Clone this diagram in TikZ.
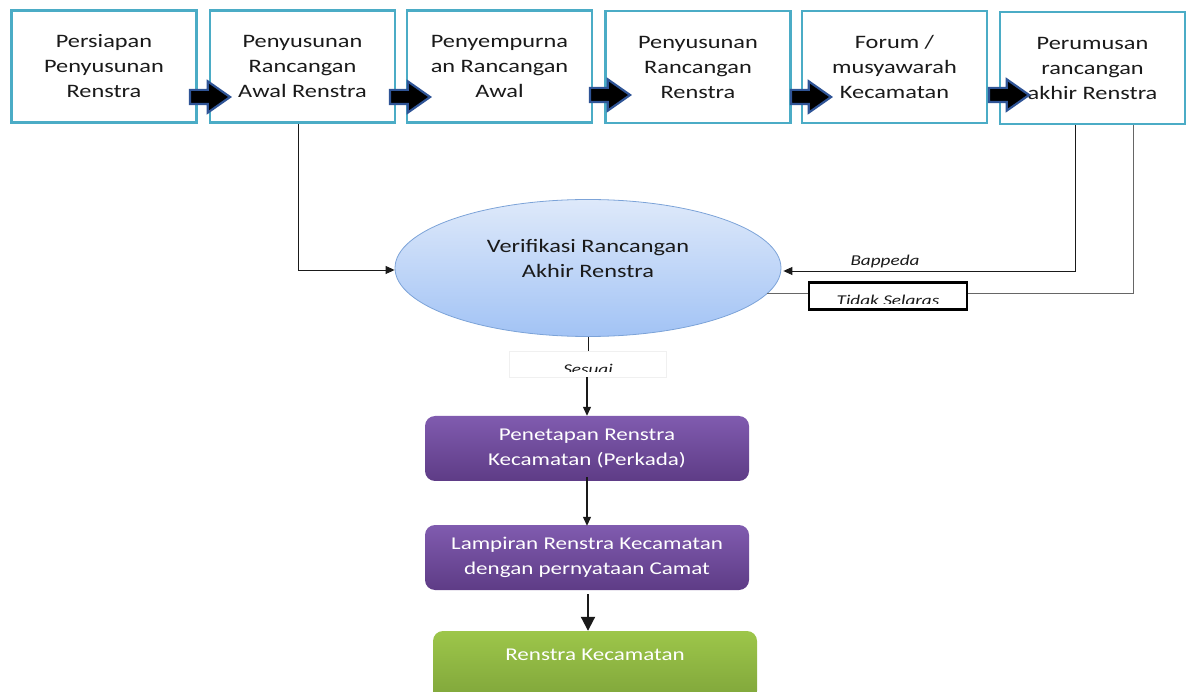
\documentclass[tikz,border=0pt]{standalone}
\usepackage{fontspec}
\setmainfont{Carlito}[FakeStretch=1.28]
\usetikzlibrary{shapes.geometric,shapes.arrows,arrows.meta}
\definecolor{boxcyan}{HTML}{4BACC6}
\definecolor{arrowblue}{HTML}{2F5496}
\definecolor{elltop}{HTML}{DEE9FA}
\definecolor{ellbot}{HTML}{A2C3F5}
\definecolor{elldraw}{HTML}{7CA3D8}
\definecolor{purtop}{HTML}{805BAF}
\definecolor{purbot}{HTML}{5E3C86}
\definecolor{grntop}{HTML}{9DC64A}
\definecolor{grnbot}{HTML}{7FA53A}
\definecolor{txt}{HTML}{1A1A1A}
\definecolor{conn}{HTML}{1A1A1A}
\tikzset{
  stagebox/.style={draw=boxcyan, line width=2.8pt, fill=white, minimum width=185pt, minimum height=112pt,
    inner sep=0pt, align=center, text=txt, font=\fontsize{19}{25}\selectfont},
  blockarrow/.style={shape=single arrow, draw=arrowblue, fill=black, line width=2.2pt,
    inner xsep=0pt, inner ysep=6pt, single arrow head extend=8.5pt, single arrow tip angle=70,
    minimum height=40pt},
  verif/.style={ellipse, draw=elldraw, line width=0.8pt, top color=elltop, bottom color=ellbot,
    minimum width=386pt, minimum height=137pt, inner sep=0pt},
  purbox/.style={rounded corners=10pt, top color=purtop, bottom color=purbot, minimum width=324pt,
    minimum height=65pt, inner sep=0pt, align=center, text=white, font=\fontsize{18}{25}\selectfont},
  grnbox/.style={rounded corners=10pt, top color=grntop, bottom color=grnbot, minimum width=324pt,
    minimum height=70pt, inner sep=0pt},
  conline/.style={draw=conn, line width=0.9pt},
  arr/.style={conline, -{Triangle[length=9pt, width=8pt]}},
  lbl/.style={font=\fontsize{15}{18}\selectfont\itshape, text=txt, inner sep=0pt},
}
\begin{document}
\begin{tikzpicture}[x=1pt,y=-1pt]
\useasboundingbox (0,0) rectangle (1192,692);

% top row
\node[stagebox] (b1) at (104,66.5) {Persiapan\\Penyusunan\\Renstra};
\node[stagebox] (b2) at (302.5,66.5) {Penyusunan\\Rancangan\\Awal Renstra};
\node[stagebox] (b3) at (499.5,66.5) {Penyempurna\\an Rancangan\\Awal};
\node[stagebox] (b4) at (698,67) {Penyusunan\\Rancangan\\Renstra};
\node[stagebox] (b5) at (894.5,67) {Forum /\\musyawarah\\Kecamatan};
\node[stagebox] (b6) at (1092.5,68) {Perumusan\\rancangan\\akhir Renstra};

\node[blockarrow] (a1) at (205,97) {};
\node[blockarrow] (a2) at (405,97) {};
\node[blockarrow] (a3) at (605,95) {};
\node[blockarrow] (a4) at (806,97) {};
\node[blockarrow] (a5) at (1004,95) {};

% ellipse
\node[verif] (v) at (588,268) {};
\node[font=\fontsize{19}{25}\selectfont, text=txt, align=center] (vt) at (588,258) {Verifikasi Rancangan\\Akhir Renstra};

% left connector
\coordinate (c2) at (298,270);
\draw[arr] (b2.south -| c2) -- (c2) -- (v.west |- c2);

% Bappeda connector
\coordinate (c6a) at (1075,271);
\draw[arr] (b6.south -| c6a) -- (c6a) -- ([xshift=2pt]v.east |- c6a);
\node[lbl] (bap) at (885,262) {Bappeda};

% Tidak selaras connector
\coordinate (c6b) at (1133,293);
\coordinate (ve) at (767,293);
\draw[draw=gray!80!black, line width=0.9pt] (b6.south -| c6b) -- (c6b) -- (ve);
\node[draw=black, line width=2.8pt, fill=white, minimum width=158pt, minimum height=27pt, inner sep=0pt] (ts) at (888,296) {};
\begin{scope}
  \clip (808,283) rectangle (968,303.5);
  \node[lbl, anchor=base] (tst) at (888,306) {Tidak Selaras};
\end{scope}

% Sesuai
\node[draw=black!6, fill=white, minimum width=157pt, minimum height=26pt, inner sep=0pt] (ss) at (588,364) {};
\begin{scope}
  \clip (510,352) rectangle (667,372);
  \node[lbl, anchor=base] (sst) at (588,375) {Sesuai};
\end{scope}
\draw[conline] (v.south -| ss.north) -- (ss.north);

% bottom
\node[purbox] (p1) at (587,448.5) {Penetapan Renstra\\Kecamatan (Perkada)};
\node[purbox] (p2) at (587,557.5) {Lampiran Renstra Kecamatan\\dengan pernyataan Camat};
\node[grnbox] (g) at (595,666) {};
\node[font=\fontsize{18}{22}\selectfont, text=white, inner sep=0pt] (gt) at (595,655) {Renstra Kecamatan};

\coordinate (x1) at (587,0);
\coordinate (x2) at (588,0);
\draw[arr, line width=1.2pt] (ss.south -| x1) -- (p1.north -| x1);
\draw[arr, line width=1.2pt] ([yshift=4pt]p1.south -| x1) -- ([yshift=-1pt]p2.north -| x1);
\draw[conline, line width=2pt, -{Triangle[length=14pt, width=14pt]}] ([yshift=-4pt]p2.south -| x2) -- (g.north -| x2);
\end{tikzpicture}
\end{document}
